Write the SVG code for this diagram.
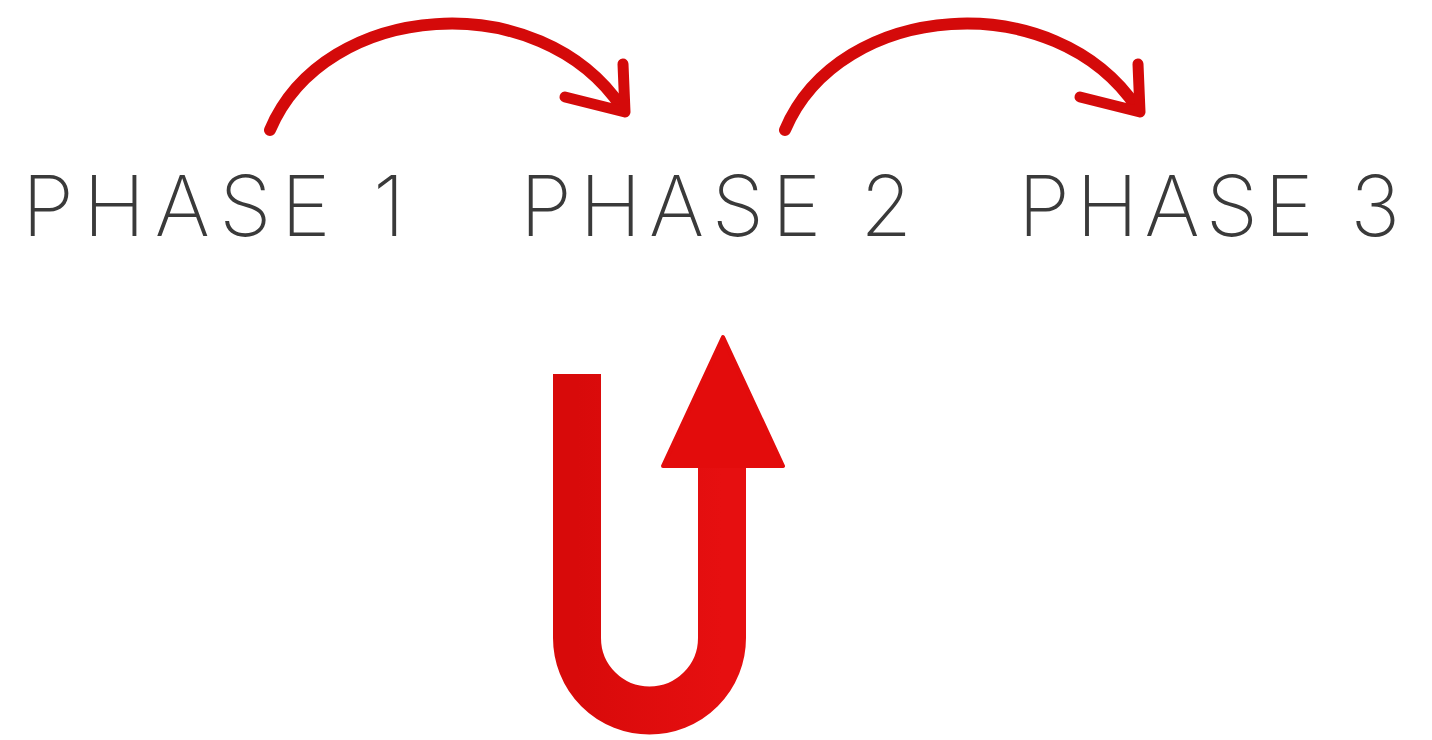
<svg xmlns="http://www.w3.org/2000/svg" width="1432" height="740" viewBox="0 0 1432 740">
<defs>
<style>
.lbl{font-family:Inter,"Liberation Sans",sans-serif;font-weight:200;font-size:84px;fill:#3a3a3a}
.curve{fill:none;stroke:#d40a0a;stroke-width:12;stroke-linecap:round;stroke-linejoin:round}
.head{fill:none;stroke:#d40a0a;stroke-width:11;stroke-linecap:round;stroke-linejoin:round}
</style>
<linearGradient id="ured" x1="0" y1="0" x2="1" y2="0">
<stop offset="0" stop-color="#d80a0a"/>
<stop offset="1" stop-color="#e60f10"/>
</linearGradient>
</defs>
<rect width="1432" height="740" fill="#ffffff"/>
<g id="phase1"><text class="lbl" x="22" y="236" textLength="383" lengthAdjust="spacing">PHASE 1</text></g>
<g id="phase2"><text class="lbl" x="520" y="236" textLength="392" lengthAdjust="spacing">PHASE 2</text></g>
<g id="phase3"><text class="lbl" x="1018" y="236" textLength="382" lengthAdjust="spacing">PHASE 3</text></g>
<g id="connectors">
<path class="curve" d="M270,130 C325,0 540,-15 622,108"/>
<path class="head" d="M565,97 L625,112 L623,64"/>
<path class="curve" d="M785,130 C840,0 1055,-15 1137,108"/>
<path class="head" d="M1080,97 L1140,112 L1138,64"/>
</g>
<g id="uturn">
<path d="M577,374 V638 A72.5,72.5 0 0 0 722,638 V466" fill="none" stroke="url(#ured)" stroke-width="48"/>
<path d="M723,337 L783,466 L663,466 Z" fill="#e30c0c" stroke="#e30c0c" stroke-width="4" stroke-linejoin="round"/>
</g>
</svg>
